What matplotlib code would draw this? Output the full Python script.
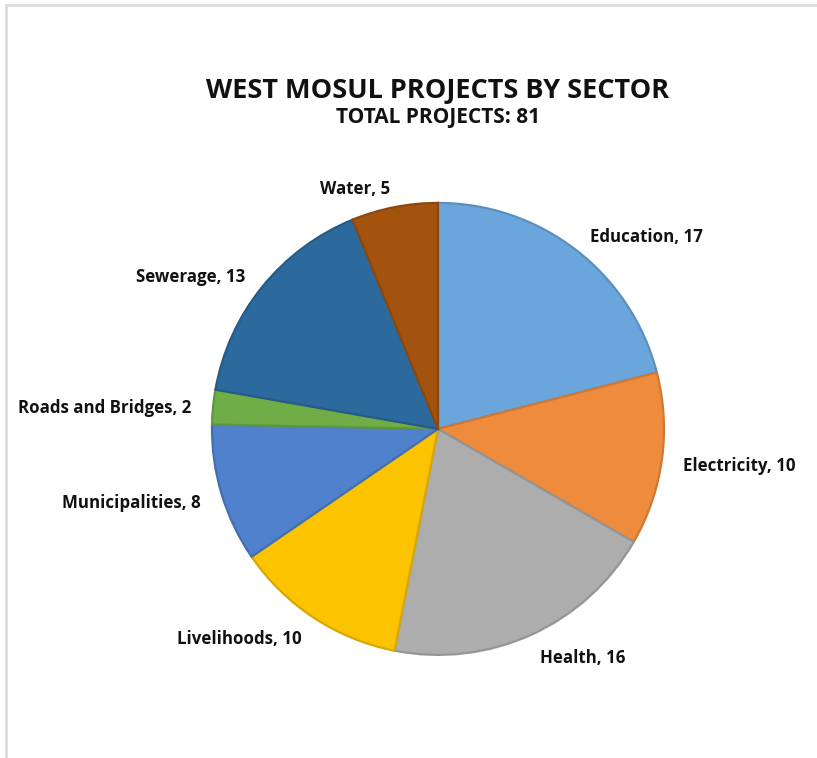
import matplotlib
matplotlib.use("Agg")
import matplotlib.pyplot as plt
import matplotlib.colors as mcolors
from matplotlib.lines import Line2D

sectors = ["Education", "Electricity", "Health", "Livelihoods", "Municipalities",
           "Roads and Bridges", "Sewerage", "Water"]
projects = [17, 10, 16, 10, 8, 2, 13, 5]
colors = ["#6aa6dc", "#ee8b3c", "#adadad", "#fcc300", "#4f81cc",
          "#70ad47", "#2c6a9e", "#a4530f"]

title = "WEST MOSUL PROJECTS BY SECTOR"
subtitle = "TOTAL PROJECTS: %d" % sum(projects)

plt.rcParams['font.family'] = ['Open Sans', 'DejaVu Sans']

fig = plt.figure(figsize=(8.17, 7.58), dpi=100)

# thin grey frame on top and left, like the cropped screenshot
fig.add_artist(Line2D([0.007, 1.0], [0.993, 0.993], color="#dcdcdc", lw=2, transform=fig.transFigure))
fig.add_artist(Line2D([0.007, 0.007], [0.0, 0.993], color="#dcdcdc", lw=2, transform=fig.transFigure))

ax = fig.add_axes([0.2595, 0.136, 0.5532, 0.5963])

edge_cols = [tuple(c * 0.86 for c in mcolors.to_rgb(col)) for col in colors]
labels = ["%s, %d" % (s, v) for s, v in zip(sectors, projects)]

wedges, texts = ax.pie(projects, colors=colors, labels=labels, startangle=90,
                       counterclock=False, labeldistance=1.095,
                       wedgeprops=dict(linewidth=1.6),
                       textprops=dict(fontsize=12.2, fontweight='bold', color="#111111"))
for w, ec in zip(wedges, edge_cols):
    w.set_edgecolor(ec)
for t in texts:
    x, y = t.get_position()
    t.set_position((x, y - 0.015))

ax.set_xlim(-1, 1)
ax.set_ylim(-1, 1)
ax.set_aspect('equal')

fig.text(0.536, 0.880, title, ha='center', va='center', fontsize=19.5, fontweight='bold', color="#111111")
fig.text(0.536, 0.845, subtitle, ha='center', va='center', fontsize=15, fontweight='bold', color="#111111")

fig.savefig("out.png", dpi=100)
